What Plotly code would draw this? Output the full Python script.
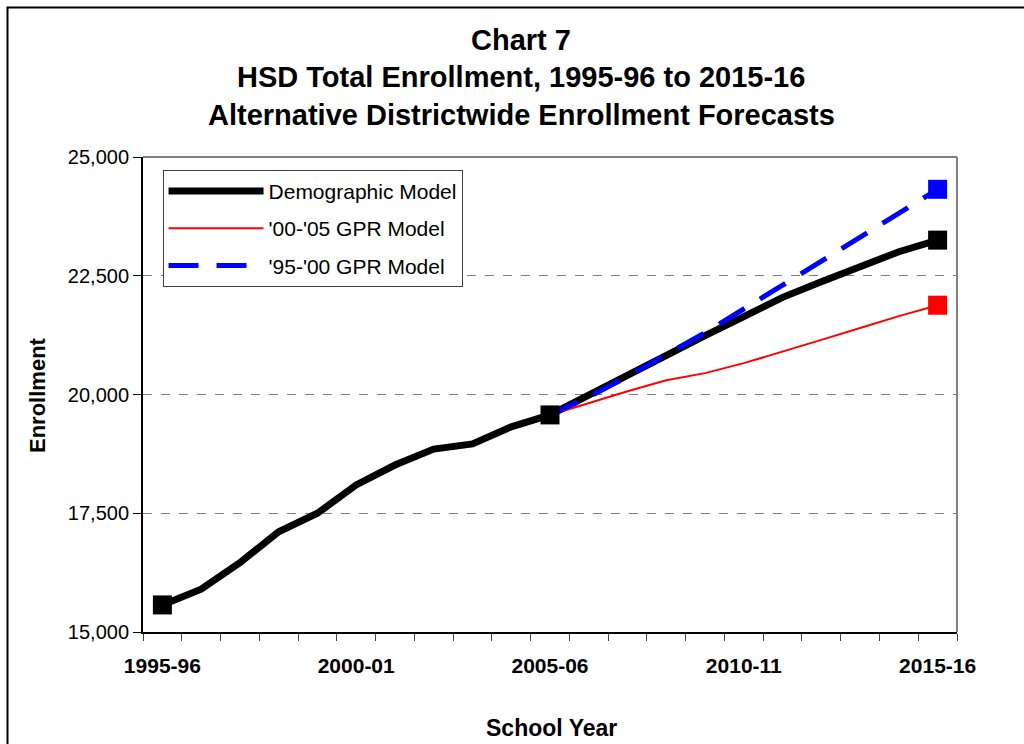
import plotly.graph_objects as go

school_years = ["1995-96", "1996-97", "1997-98", "1998-99", "1999-00", "2000-01",
                "2001-02", "2002-03", "2003-04", "2004-05", "2005-06", "2006-07",
                "2007-08", "2008-09", "2009-10", "2010-11", "2011-12", "2012-13",
                "2013-14", "2014-15", "2015-16"]
demographic = [15570, 15900, 16460, 17110, 17500, 18095, 18515, 18850, 18960, 19320,
               19570, 19990, 20440, 20845, 21240, 21640, 22045, 22375, 22690, 23005, 23250]
gpr_00_05 = [None] * 10 + [19570, 19820, 20070, 20300, 20450, 20660, 20900, 21150,
                           21400, 21650, 21880]
gpr_95_00 = [None] * 10 + [19570, 19950, 20380, 20830, 21300, 21800, 22300, 22810,
                           23310, 23810, 24320]
label_years = ["1995-96", "2000-01", "2005-06", "2010-11", "2015-16"]
y_ticks = [15000, 17500, 20000, 22500, 25000]

x = list(range(len(school_years)))
FONT = "Liberation Sans, Arial, sans-serif"

L, R, T, B = 143, 957, 157, 632
PW, PH = R - L, B - T


def px(xp):
    return (xp - L) / PW


def py(yp):
    return (B - yp) / PH


fig = go.Figure()
fig.add_trace(go.Scatter(x=x, y=demographic, mode="lines", name="Demographic Model",
                         line=dict(color="black", width=7), legendgroup="a"))
fig.add_trace(go.Scatter(x=x, y=gpr_00_05, mode="lines", name="'00-'05 GPR Model",
                         line=dict(color="#ff0000", width=2), legendgroup="b"))
fig.add_trace(go.Scatter(x=x, y=gpr_95_00, mode="lines", name="'95-'00 GPR Model",
                         line=dict(color="#0000ff", width=5, dash="30px,18px"), legendgroup="c"))

# end-point markers
dem_idx = [0, 10, len(school_years) - 1]
last = len(school_years) - 1
fig.add_trace(go.Scatter(x=[x[i] for i in dem_idx], y=[demographic[i] for i in dem_idx],
                         mode="markers", showlegend=False,
                         marker=dict(symbol="square", size=19, color="black")))
fig.add_trace(go.Scatter(x=[x[last]], y=[gpr_00_05[last]], mode="markers", showlegend=False,
                         marker=dict(symbol="square", size=19, color="#ff0000")))
fig.add_trace(go.Scatter(x=[x[last]], y=[gpr_95_00[last]], mode="markers", showlegend=False,
                         marker=dict(symbol="square", size=19, color="#0000ff")))

tick_pos = [school_years.index(s) for s in label_years]

fig.update_layout(
    width=1024, height=744,
    margin=dict(l=L, r=1024 - R, t=T, b=744 - B, autoexpand=False),
    paper_bgcolor="white", plot_bgcolor="white",
    font=dict(family=FONT, color="black", size=20),
    showlegend=True,
    legend=dict(x=0.024, y=0.973, xanchor="left", yanchor="top",
                bgcolor="white", bordercolor="#404040", borderwidth=1,
                font=dict(size=21, family=FONT), tracegroupgap=7,
                itemwidth=95),
    xaxis=dict(range=[-0.5, len(school_years) - 0.5], tickmode="array",
               tickvals=tick_pos, ticktext=label_years, ticks="",
               tickfont=dict(size=21, family=FONT, weight="bold"),
               showline=True, linecolor="black", linewidth=2, showgrid=False,
               zeroline=False, ticklabelstandoff=14, automargin=False,
               minor=dict(tickmode="array",
                          tickvals=[i - 0.5 for i in range(len(school_years) + 1)],
                          ticks="outside", ticklen=7, tickcolor="#404040", tickwidth=1,
                          showgrid=False)),
    yaxis=dict(range=[15000, 25000], tickmode="array", tickvals=y_ticks,
               tickformat=",", ticks="outside", ticklen=8, tickcolor="black",
               showline=True, linecolor="black", linewidth=2, automargin=False,
               showgrid=True, gridcolor="#808080", griddash="dash", gridwidth=1,
               zeroline=False, tickfont=dict(size=20, family=FONT)),
    shapes=[
        dict(type="line", xref="paper", yref="paper", x0=0, x1=1, y0=1, y1=1,
             line=dict(color="#808080", width=2)),
        dict(type="line", xref="paper", yref="paper", x0=1, x1=1, y0=0, y1=1,
             line=dict(color="#808080", width=2)),
        dict(type="rect", xref="paper", yref="paper",
             x0=px(7.5), x1=px(1100), y0=py(800), y1=py(7.5),
             line=dict(color="black", width=2), fillcolor="rgba(0,0,0,0)", layer="below"),
    ],
    annotations=[
        dict(text="<b>Chart 7</b>", xref="paper", yref="paper",
             x=px(521), y=py(40), showarrow=False,
             font=dict(size=29, family=FONT), xanchor="center", yanchor="middle"),
        dict(text="<b>HSD Total Enrollment, 1995-96 to 2015-16</b>", xref="paper", yref="paper",
             x=px(521), y=py(77), showarrow=False,
             font=dict(size=29, family=FONT), xanchor="center", yanchor="middle"),
        dict(text="<b>Alternative Districtwide Enrollment Forecasts</b>", xref="paper", yref="paper",
             x=px(521), y=py(115), showarrow=False,
             font=dict(size=29, family=FONT), xanchor="center", yanchor="middle"),
        dict(text="<b>School Year</b>", xref="paper", yref="paper",
             x=px(551), y=py(728), showarrow=False,
             font=dict(size=23, family=FONT), xanchor="center", yanchor="middle"),
        dict(text="<b>Enrollment</b>", xref="paper", yref="paper",
             x=px(37), y=py(395), showarrow=False, textangle=-90,
             font=dict(size=22, family=FONT), xanchor="center", yanchor="middle"),
    ],
)

fig.write_html("out.html")
